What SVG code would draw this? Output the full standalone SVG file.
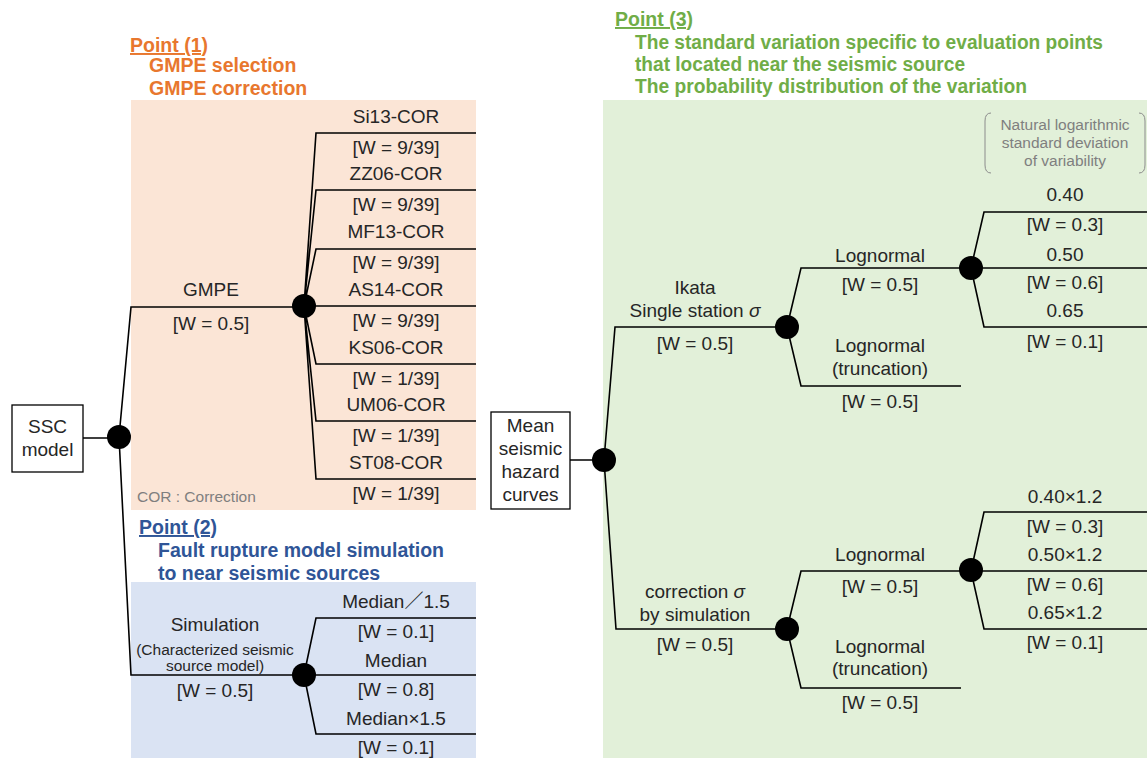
<svg xmlns="http://www.w3.org/2000/svg" width="1147" height="758" viewBox="0 0 1147 758">
<style>
text{font-family:"Liberation Sans","Noto Sans CJK JP",sans-serif;font-size:19px;fill:#262626}
.m{text-anchor:middle}
.s{font-size:15.5px}
.g{fill:#7f7f7f}
.t{font-weight:bold;font-size:19.5px}
.or{fill:#E8772E}
.bl{fill:#2F5597}
.gr{fill:#70AD47}
.ln{stroke:#000;stroke-width:1.6;fill:none}
.nd{fill:#000}
.bx{fill:#fff;stroke:#000;stroke-width:1.3}
</style>
<rect width="1147" height="758" fill="#fff"/>
<g id="backgrounds">
<rect x="131" y="100" width="345" height="410" fill="#FBE5D6"/>
<rect x="131" y="582" width="345" height="176" fill="#DAE3F3"/>
<rect x="603" y="100" width="544" height="658" fill="#E2F0D9"/>
</g>
<g id="titles">
<text x="130" y="52" class="t or" text-decoration="underline">Point (1)</text>
<text x="149" y="72" class="t or">GMPE selection</text>
<text x="149" y="95" class="t or">GMPE correction</text>
<text x="139" y="534" class="t bl" text-decoration="underline">Point (2)</text>
<text x="158" y="557" class="t bl">Fault rupture model simulation</text>
<text x="158" y="580" class="t bl">to near seismic sources</text>
<text x="615" y="26" class="t gr" text-decoration="underline">Point (3)</text>
<text x="635" y="49" class="t gr" textLength="468" lengthAdjust="spacingAndGlyphs">The standard variation specific to evaluation points</text>
<text x="635" y="71" class="t gr" textLength="330" lengthAdjust="spacingAndGlyphs">that located near the seismic source</text>
<text x="635" y="93" class="t gr" textLength="392" lengthAdjust="spacingAndGlyphs">The probability distribution of the variation</text>
<text x="137" y="502" class="s g">COR : Correction</text>
</g>
<g id="connectors">
<path class="ln" d="M83 438H119M119 437L131 307H304M119 437L131 675H304"/>
<path class="ln" d="M304 306L316 133H476M304 306L316 190H476M304 306L316 249H476M304 306H476M304 306L316 364H476M304 306L316 421H476M304 306L316 479H476"/>
<path class="ln" d="M304 675L316 618H476M304 675H476M304 675L316 734H476"/>
<path class="ln" d="M570 460H604M604 460L615 327H787M604 460L616 629H787"/>
<path class="ln" d="M787 327L801 268H971M787 327L801 386H961M971 268L984 212H1147M971 268H1147M971 268L984 327H1147"/>
<path class="ln" d="M787 629L801 571H971M787 629L801 688H961M971 571L984 512H1147M971 571H1147M971 571L984 629H1147"/>
<path d="M991 113Q985 113 985 121V165Q985 173 991 173M1139 113Q1145 113 1145 121V165Q1145 173 1139 173" fill="none" stroke="#8c8c8c" stroke-width="1"/>
</g>
<g id="ssc">
<rect class="bx" x="12" y="405" width="71" height="67"/>
<text x="47.5" y="433" class="m">SSC</text>
<text x="47.5" y="456" class="m">model</text>
<circle class="nd" cx="119" cy="437" r="12"/>
</g>
<g id="gmpe">
<text x="211" y="296" class="m">GMPE</text>
<text x="211" y="330" class="m">[W = 0.5]</text>
<circle class="nd" cx="304" cy="306" r="12"/>
<text x="396" y="123" class="m">Si13-COR</text>
<text x="396" y="154" class="m">[W = 9/39]</text>
<text x="396" y="180" class="m">ZZ06-COR</text>
<text x="396" y="211" class="m">[W = 9/39]</text>
<text x="396" y="238" class="m">MF13-COR</text>
<text x="396" y="269" class="m">[W = 9/39]</text>
<text x="396" y="296" class="m">AS14-COR</text>
<text x="396" y="327" class="m">[W = 9/39]</text>
<text x="396" y="354" class="m">KS06-COR</text>
<text x="396" y="385" class="m">[W = 1/39]</text>
<text x="396" y="411" class="m">UM06-COR</text>
<text x="396" y="442" class="m">[W = 1/39]</text>
<text x="396" y="469" class="m">ST08-COR</text>
<text x="396" y="500" class="m">[W = 1/39]</text>
</g>
<g id="simulation">
<text x="215" y="631" class="m">Simulation</text>
<text x="215" y="655" class="m s">(Characterized seismic</text>
<text x="215" y="671" class="m s">source model)</text>
<text x="215" y="697" class="m">[W = 0.5]</text>
<circle class="nd" cx="304" cy="675" r="12"/>
<text x="396" y="608" class="m">Median／1.5</text>
<text x="396" y="638" class="m">[W = 0.1]</text>
<text x="396" y="667" class="m">Median</text>
<text x="396" y="696" class="m">[W = 0.8]</text>
<text x="396" y="725" class="m">Median×1.5</text>
<text x="396" y="754" class="m">[W = 0.1]</text>
</g>
<g id="mean">
<rect class="bx" x="491" y="412" width="79" height="97"/>
<text x="530.5" y="432" class="m">Mean</text>
<text x="530.5" y="455" class="m">seismic</text>
<text x="530.5" y="478" class="m">hazard</text>
<text x="530.5" y="501" class="m">curves</text>
<circle class="nd" cx="604" cy="460" r="12"/>
</g>
<g id="note">
<text x="1065" y="130" class="m s g">Natural logarithmic</text>
<text x="1065" y="148" class="m s g">standard deviation</text>
<text x="1065" y="166" class="m s g">of variability</text>
</g>
<g id="ikata">
<text x="695" y="294" class="m">Ikata</text>
<text x="695" y="317" class="m">Single station <tspan font-style="italic">σ</tspan></text>
<text x="695" y="350" class="m">[W = 0.5]</text>
<circle class="nd" cx="787" cy="327" r="12"/>
<text x="880" y="262" class="m">Lognormal</text>
<text x="880" y="291" class="m">[W = 0.5]</text>
<circle class="nd" cx="971" cy="268" r="12"/>
<text x="880" y="352" class="m">Lognormal</text>
<text x="880" y="375" class="m">(truncation)</text>
<text x="880" y="408" class="m">[W = 0.5]</text>
<text x="1065" y="201" class="m">0.40</text>
<text x="1065" y="231" class="m">[W = 0.3]</text>
<text x="1065" y="261" class="m">0.50</text>
<text x="1065" y="289" class="m">[W = 0.6]</text>
<text x="1065" y="317" class="m">0.65</text>
<text x="1065" y="348" class="m">[W = 0.1]</text>
</g>
<g id="correction">
<text x="695" y="598" class="m">correction <tspan font-style="italic">σ</tspan></text>
<text x="695" y="621" class="m">by simulation</text>
<text x="695" y="651" class="m">[W = 0.5]</text>
<circle class="nd" cx="787" cy="629" r="12"/>
<text x="880" y="561" class="m">Lognormal</text>
<text x="880" y="593" class="m">[W = 0.5]</text>
<circle class="nd" cx="971" cy="570" r="12"/>
<text x="880" y="653" class="m">Lognormal</text>
<text x="880" y="675" class="m">(truncation)</text>
<text x="880" y="709" class="m">[W = 0.5]</text>
<text x="1065" y="503" class="m">0.40×1.2</text>
<text x="1065" y="533" class="m">[W = 0.3]</text>
<text x="1065" y="561" class="m">0.50×1.2</text>
<text x="1065" y="591" class="m">[W = 0.6]</text>
<text x="1065" y="619" class="m">0.65×1.2</text>
<text x="1065" y="649" class="m">[W = 0.1]</text>
</g>
</svg>
